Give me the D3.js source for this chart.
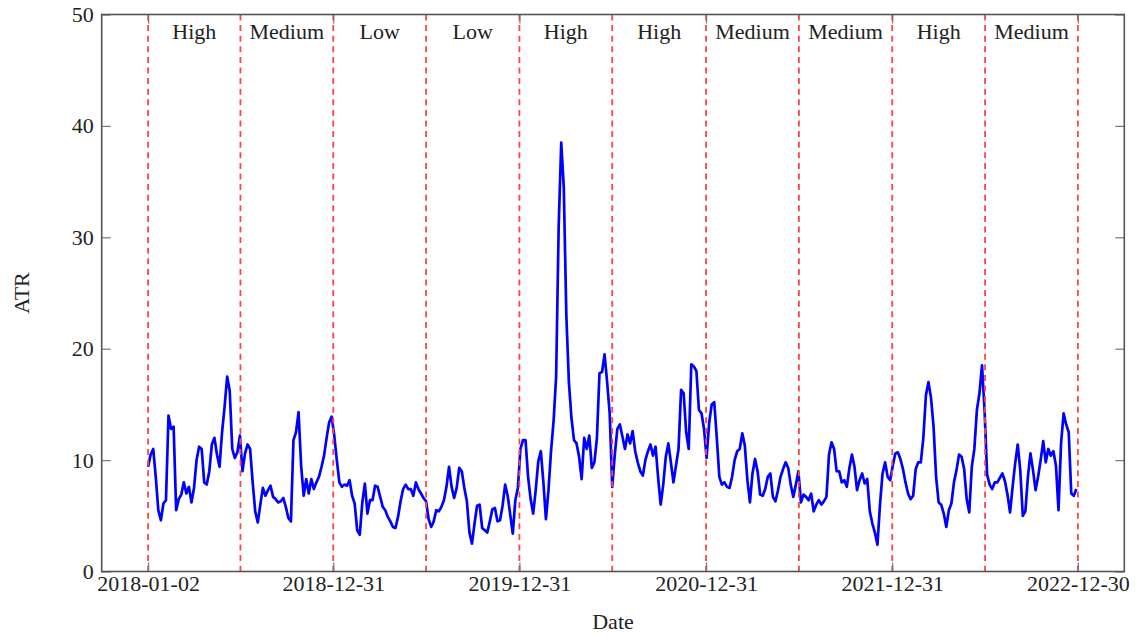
<!DOCTYPE html>
<html>
<head>
<meta charset="utf-8">
<script src="https://cdn.jsdelivr.net/npm/d3@7"></script>
<style>
  html, body { margin: 0; padding: 0; background: #fff; }
  svg { display: block; }
</style>
</head>
<body>
<div id="chart"></div>
<script>
// series start and spacing (one reading every 5 calendar days)
const seriesStart = "2018-01-02"
const stepDays = 5

// ATR readings
const atrValues = [
  9.4, 10.5, 11.0, 8.5, 5.5, 4.6, 6.1, 6.4, 14.0, 12.8,
  13.0, 5.5, 6.5, 6.9, 8.0, 7.0, 7.6, 6.2, 7.5, 10.0,
  11.2, 11.0, 8.0, 7.8, 9.0, 11.4, 12.0, 10.5, 9.4, 12.5,
  14.8, 17.5, 16.2, 11.0, 10.2, 10.7, 12.2, 9.0, 10.6, 11.4,
  11.0, 8.0, 5.4, 4.4, 6.0, 7.5, 6.8, 7.3, 7.7, 6.7,
  6.5, 6.2, 6.3, 6.6, 5.8, 4.8, 4.5, 11.8, 12.5, 14.3,
  9.5, 6.8, 8.3, 7.0, 8.3, 7.4, 8.0, 8.5, 9.4, 10.4,
  12.0, 13.4, 13.9, 12.2, 10.0, 8.0, 7.6, 7.8, 7.7, 8.2,
  6.8, 6.1, 3.7, 3.3, 6.2, 7.9, 5.2, 6.4, 6.4, 7.7,
  7.6, 6.7, 5.8, 5.5, 4.9, 4.5, 4.0, 3.9, 4.9, 6.3,
  7.4, 7.8, 7.4, 7.4, 6.8, 8.0, 7.4, 7.0, 6.6, 6.3,
  4.7, 4.0, 4.5, 5.5, 5.4, 5.8, 6.4, 7.6, 9.4, 7.6,
  6.6, 7.5, 9.3, 9.0, 7.5, 6.3, 3.5, 2.5, 4.3, 5.9,
  6.0, 3.9, 3.7, 3.5, 4.5, 5.6, 5.7, 4.5, 4.6, 5.9,
  7.8, 6.8, 5.1, 3.4, 6.4, 7.5, 11.0, 11.8, 11.8, 8.5,
  6.5, 5.2, 7.3, 9.9, 10.8, 8.0, 4.7, 7.3, 10.8, 13.5,
  17.5, 31.0, 38.5, 34.5, 23.0, 17.0, 13.8, 11.8, 11.5, 10.3,
  8.3, 12.0, 11.0, 12.2, 9.3, 9.8, 12.0, 17.8, 17.9, 19.5,
  17.0, 14.2, 7.6, 10.5, 12.8, 13.2, 12.1, 11.0, 12.3, 11.5,
  12.6, 10.8, 9.8, 9.0, 8.6, 10.0, 10.8, 11.4, 10.4, 11.2,
  8.4, 6.0, 7.8, 10.3, 11.5, 9.8, 8.0, 9.5, 11.0, 16.3,
  16.0, 12.5, 11.0, 18.6, 18.4, 18.0, 14.5, 14.2, 12.8, 10.2,
  13.3, 15.0, 15.2, 12.0, 8.5, 7.8, 8.0, 7.6, 7.5, 8.5,
  10.0, 10.8, 11.0, 12.4, 11.3, 8.2, 6.2, 8.8, 10.1, 9.0,
  6.9, 6.8, 7.4, 8.5, 8.8, 6.7, 6.3, 7.3, 8.5, 9.2,
  9.8, 9.3, 7.8, 6.7, 7.8, 9.0, 6.2, 6.9, 6.7, 6.4,
  7.0, 5.4, 6.0, 6.4, 6.0, 6.3, 6.7, 10.5, 11.6, 11.0,
  9.0, 9.0, 8.0, 8.2, 7.6, 9.3, 10.5, 9.4, 7.3, 8.2,
  8.8, 7.9, 8.3, 5.4, 4.3, 3.5, 2.4, 6.0, 8.8, 9.8,
  8.5, 8.2, 9.5, 10.6, 10.7, 10.1, 9.2, 8.0, 7.0, 6.5,
  6.8, 9.2, 9.8, 9.8, 12.0, 15.8, 17.0, 15.6, 13.0, 8.5,
  6.2, 6.0, 5.2, 4.0, 5.5, 6.1, 8.0, 9.1, 10.5, 10.3,
  9.2, 6.5, 5.3, 9.4, 11.0, 14.5, 16.0, 18.5, 14.5, 8.7,
  7.8, 7.4, 8.0, 8.0, 8.4, 8.8, 8.1, 6.9, 5.3, 7.6,
  9.7, 11.4, 9.1, 5.0, 5.4, 8.5, 10.6, 9.1, 7.3, 8.5,
  10.0, 11.7, 9.8, 11.0, 10.4, 10.8, 9.5, 5.5, 11.5, 14.2,
  13.2, 12.5, 7.0, 6.8, 7.4
]

// regime boundaries (dashed lines) and the regime of each half-year
const regimeBounds = [
  "2018-01-02", "2018-07-02", "2018-12-31", "2019-07-01", "2019-12-31", "2020-06-30",
  "2020-12-31", "2021-07-01", "2021-12-31", "2022-07-01", "2022-12-30"
]
const regimeLabels = ["High", "Medium", "Low", "Low", "High", "High", "Medium", "Medium", "High", "Medium"]

const xTicks = ["2018-01-02", "2018-12-31", "2019-12-31", "2020-12-31", "2021-12-31", "2022-12-30"]
const yTicks = [0, 10, 20, 30, 40, 50]

const width = 1138
const height = 636
const plot = { left: 101.7, right: 1124.3, top: 14.5, bottom: 571.5 }
const font = "'Liberation Serif', 'DejaVu Serif', serif"

const parse = d3.timeParse("%Y-%m-%d")
const fmt = d3.timeFormat("%Y-%m-%d")
const t0 = parse(seriesStart)
const data = atrValues.map((v, i) => ({ date: d3.timeDay.offset(t0, i * stepDays), value: v }))
const bounds = regimeBounds.map(parse)

// pgfplots-like padding of 5% of the date range on each side
const first = bounds[0]
const last = bounds[bounds.length - 1]
const pad = Math.round(d3.timeDay.count(first, last) * 0.05)

const x = d3.scaleTime()
  .domain([d3.timeDay.offset(first, -pad), d3.timeDay.offset(last, pad)])
  .range([plot.left, plot.right])

const y = d3.scaleLinear().domain([0, 50]).range([plot.bottom, plot.top])

const svg = d3.select("#chart").append("svg")
  .attr("width", width)
  .attr("height", height)
  .attr("viewBox", `0 0 ${width} ${height}`)
  .style("font-family", font)

// ATR line
svg.append("path")
  .datum(data)
  .attr("fill", "none")
  .attr("stroke", "#0000ff")
  .attr("stroke-width", 2.7)
  .attr("stroke-linejoin", "round")
  .attr("d", d3.line().x(d => x(d.date)).y(d => y(d.value)))

// regime boundaries
svg.append("g")
  .selectAll("line")
  .data(bounds)
  .join("line")
  .attr("x1", d => x(d)).attr("x2", d => x(d))
  .attr("y1", plot.top).attr("y2", plot.bottom)
  .attr("stroke", "#ff4444")
  .attr("stroke-width", 1.8)
  .attr("stroke-dasharray", "6,4.6")

// regime names
svg.append("g")
  .selectAll("text")
  .data(regimeLabels)
  .join("text")
  .attr("x", (d, i) => (x(bounds[i]) + x(bounds[i + 1])) / 2)
  .attr("y", 39)
  .attr("text-anchor", "middle")
  .attr("font-size", "22px")
  .attr("fill", "#222")
  .text(d => d)

// axes, ticks pointing inward
const tickDates = xTicks.map(parse)
function styleAxis(g) {
  g.select(".domain").remove()
  g.selectAll(".tick line").attr("stroke", "#777").attr("stroke-width", 1.2)
  g.selectAll(".tick text").attr("fill", "#222").attr("font-size", "22px").attr("font-family", font)
}

svg.append("g")
  .attr("transform", `translate(0,${plot.bottom})`)
  .call(d3.axisBottom(x).tickValues(tickDates).tickFormat(fmt).tickSize(-9).tickPadding(4))
  .call(styleAxis)

svg.append("g")
  .attr("transform", `translate(0,${plot.top})`)
  .call(d3.axisTop(x).tickValues(tickDates).tickFormat("").tickSize(-9))
  .call(styleAxis)

svg.append("g")
  .attr("transform", `translate(${plot.left},0)`)
  .call(d3.axisLeft(y).tickValues(yTicks).tickSize(-9).tickPadding(8))
  .call(styleAxis)

svg.append("g")
  .attr("transform", `translate(${plot.right},0)`)
  .call(d3.axisRight(y).tickValues(yTicks).tickFormat("").tickSize(-9))
  .call(styleAxis)

// frame
svg.append("rect")
  .attr("x", plot.left).attr("y", plot.top)
  .attr("width", plot.right - plot.left)
  .attr("height", plot.bottom - plot.top)
  .attr("fill", "none")
  .attr("stroke", "#555")
  .attr("stroke-width", 1.6)

// axis titles
svg.append("text")
  .attr("x", (plot.left + plot.right) / 2)
  .attr("y", 629)
  .attr("text-anchor", "middle")
  .attr("font-size", "22px")
  .attr("fill", "#222")
  .text("Date")

svg.append("text")
  .attr("transform", `translate(29,${(plot.top + plot.bottom) / 2}) rotate(-90)`)
  .attr("text-anchor", "middle")
  .attr("font-size", "22px")
  .attr("fill", "#222")
  .text("ATR")
</script>
</body>
</html>
